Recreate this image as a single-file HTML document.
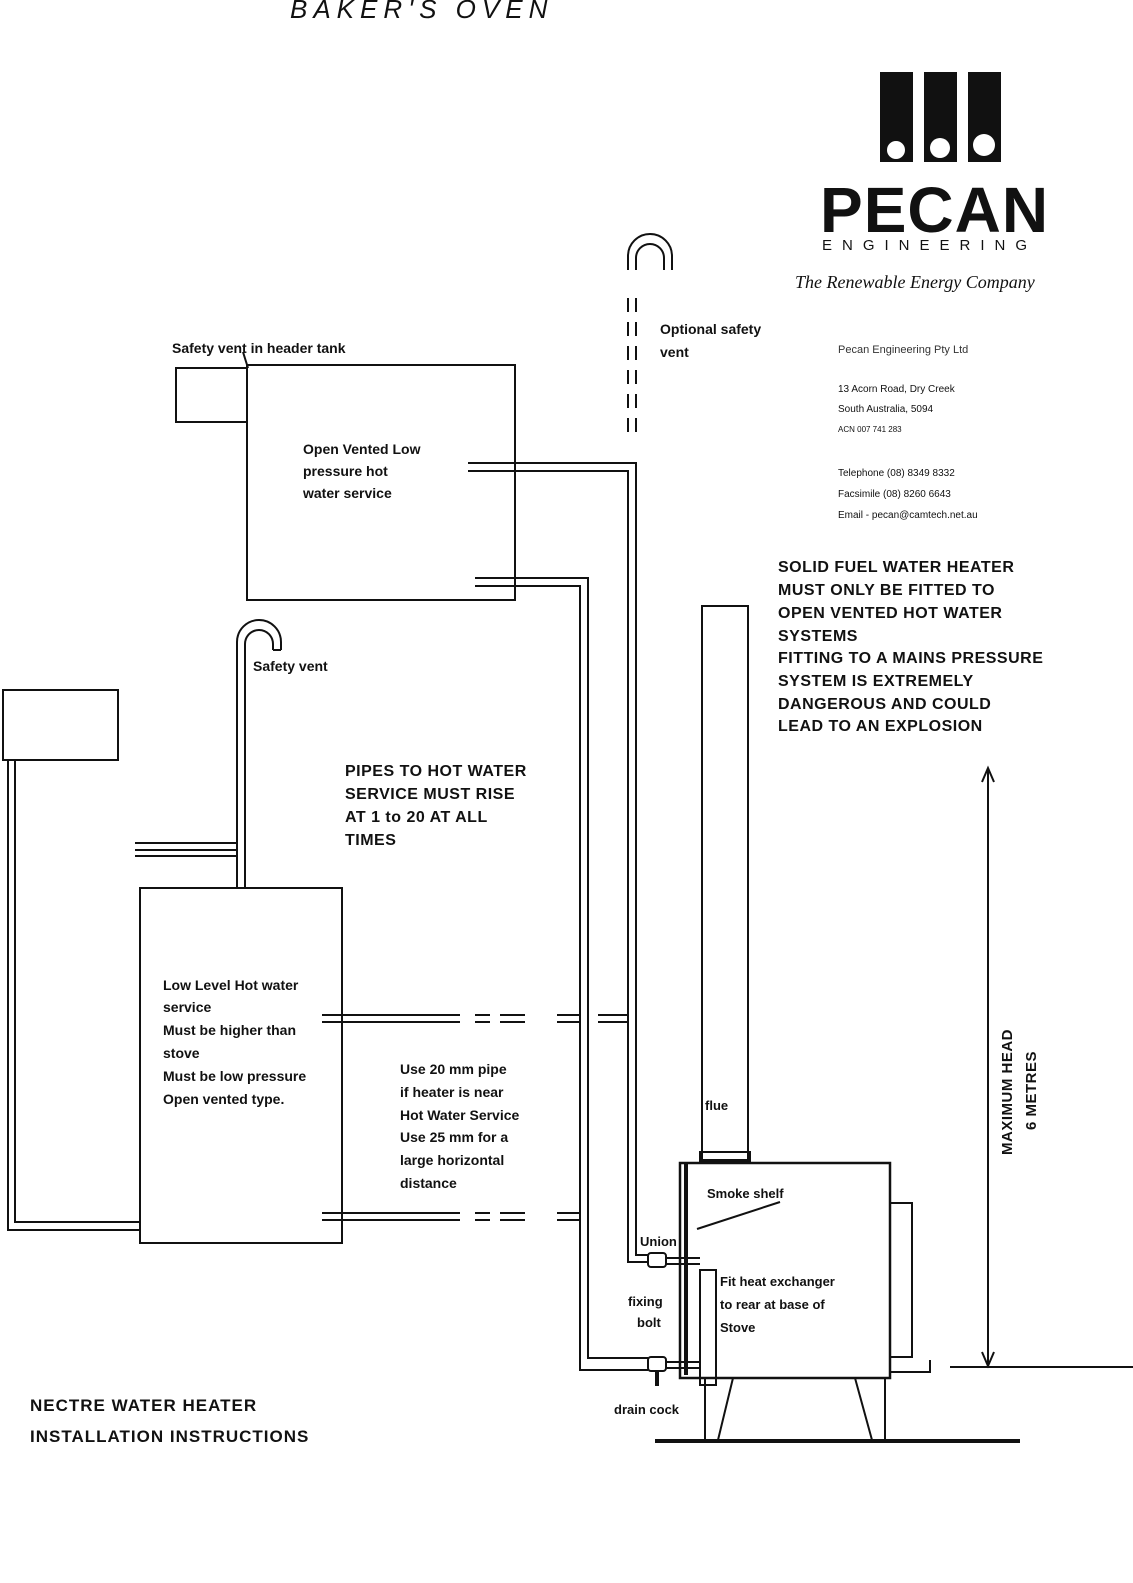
<!DOCTYPE html>
<html><head><meta charset="utf-8"><style>
html,body{margin:0;padding:0;background:#fff;overflow:hidden;width:1133px;height:1583px}
svg{display:block}
text{font-family:"Liberation Sans",sans-serif;fill:#111}
.b{font-weight:bold;font-size:14px}
.w{font-weight:bold;font-size:16px;letter-spacing:0.5px}
.s{font-size:11px;fill:#333}
</style></head><body>
<svg width="1133" height="1583" viewBox="0 0 1133 1583" xmlns="http://www.w3.org/2000/svg" fill="none" stroke="#111" stroke-width="2">
<text x="290" y="18" style="font-family:'Liberation Sans',sans-serif;font-size:26px;font-style:italic;letter-spacing:6px" fill="#222" stroke="none">BAKER'S OVEN</text>
<g fill="#111" stroke="none">
<rect x="880" y="72" width="33" height="90"/><rect x="924" y="72" width="33" height="90"/><rect x="968" y="72" width="33" height="90"/>
<circle cx="896" cy="150" r="9" fill="#fff"/><circle cx="940" cy="148" r="10" fill="#fff"/><circle cx="984" cy="145" r="11" fill="#fff"/>
</g>
<text x="820" y="232" stroke="none" style="font-size:64px;font-weight:bold;letter-spacing:1px">PECAN</text>
<text x="822" y="250" stroke="none" style="font-size:15px;letter-spacing:10px">ENGINEERING</text>
<text x="795" y="288" stroke="none" style="font-family:'Liberation Serif',serif;font-size:18px;font-style:italic">The Renewable Energy Company</text>
<g stroke="none" class="s">
<text x="838" y="353" class="s">Pecan Engineering Pty Ltd</text>
<text x="838" y="392" style="font-size:10px">13 Acorn Road, Dry Creek</text>
<text x="838" y="412" style="font-size:10px">South Australia, 5094</text>
<text x="838" y="432" style="font-size:8px">ACN 007 741 283</text>
<text x="838" y="476" style="font-size:10px">Telephone (08) 8349 8332</text>
<text x="838" y="497" style="font-size:10px">Facsimile (08) 8260 6643</text>
<text x="838" y="518" style="font-size:10px">Email - pecan@camtech.net.au</text>
</g>
<rect x="176" y="368" width="71" height="54"/>
<rect x="247" y="365" width="268" height="235"/>
<line x1="248" y1="368" x2="243" y2="352"/>
<g stroke="none" class="b">
<text x="172" y="353">Safety vent in header tank</text>
<text x="303" y="454">Open Vented Low</text>
<text x="303" y="476">pressure hot</text>
<text x="303" y="498">water service</text>
<text x="660" y="334">Optional safety</text>
<text x="660" y="357">vent</text>
</g>
<path d="M628 270 V256 A22 22 0 0 1 672 256 V270 M636 270 V258 A14 14 0 0 1 664 258 V270"/>
<g stroke-dasharray="14 10"><line x1="628" y1="298" x2="628" y2="440"/><line x1="636" y1="298" x2="636" y2="440"/></g>
<path d="M468 463 H636 V1255 H648 M468 471 H628 V1262 H648"/>
<path d="M475 578 H588 V1358 H648 M475 586 H580 V1370 H648"/>
<rect x="648" y="1253" width="18" height="14" rx="3"/>
<rect x="648" y="1357" width="18" height="14" rx="3"/>
<path d="M666 1258 H700 M666 1264 H700 M666 1362 H700 M666 1368 H700"/>
<line x1="657" y1="1371" x2="657" y2="1386" stroke-width="4"/>
<g stroke="none" class="w">
<text x="778" y="572">SOLID FUEL WATER HEATER</text>
<text x="778" y="595">MUST ONLY BE FITTED TO</text>
<text x="778" y="618">OPEN VENTED HOT WATER</text>
<text x="778" y="641">SYSTEMS</text>
<text x="778" y="663">FITTING TO A MAINS PRESSURE</text>
<text x="778" y="686">SYSTEM IS EXTREMELY</text>
<text x="778" y="709">DANGEROUS AND COULD</text>
<text x="778" y="731">LEAD TO AN EXPLOSION</text>
<text x="345" y="776">PIPES TO HOT WATER</text>
<text x="345" y="799">SERVICE MUST RISE</text>
<text x="345" y="822">AT 1 to 20 AT ALL</text>
<text x="345" y="845">TIMES</text>
</g>
<rect x="3" y="690" width="115" height="70"/>
<path d="M8 760 V1230 H140 M15 760 V1222 H140"/>
<path d="M237 888 V642 A18 18 0 0 1 281 642 V650 M245 888 V644 A10 10 0 0 1 273 644 V650"/>
<path d="M273 650 H281"/>
<path d="M135 843 H237 M135 850 H237 M135 856 H237"/>
<rect x="140" y="888" width="202" height="355"/>
<g stroke="none" class="b">
<text x="253" y="671">Safety vent</text>
<text x="163" y="990">Low Level Hot water</text>
<text x="163" y="1012">service</text>
<text x="163" y="1035">Must be higher than</text>
<text x="163" y="1058">stove</text>
<text x="163" y="1081">Must be low pressure</text>
<text x="163" y="1104">Open vented type.</text>
<text x="400" y="1074">Use 20 mm pipe</text>
<text x="400" y="1097">if heater is near</text>
<text x="400" y="1120">Hot Water Service</text>
<text x="400" y="1142">Use 25 mm for a</text>
<text x="400" y="1165">large horizontal</text>
<text x="400" y="1188">distance</text>
</g>
<path d="M322 1015 H460 M322 1022 H460 M475 1015 H490 M475 1022 H490 M500 1015 H525 M500 1022 H525 M557 1015 H580 M557 1022 H580 M598 1015 H628 M598 1022 H628"/>
<path d="M322 1213 H460 M322 1220 H460 M475 1213 H490 M475 1220 H490 M500 1213 H525 M500 1220 H525 M557 1213 H580 M557 1220 H580"/>
<rect x="702" y="606" width="46" height="554"/>
<rect x="700" y="1152" width="50" height="10"/>
<rect x="680" y="1163" width="210" height="215" stroke-width="2.5"/>
<path d="M890 1203 H912 V1357 H890"/>
<rect x="700" y="1270" width="16" height="115"/>
<line x1="686" y1="1163" x2="686" y2="1375" stroke-width="4"/>
<line x1="697" y1="1229" x2="780" y2="1202"/>
<path d="M733 1378 L718 1440 M855 1378 L872 1440 M885 1378 V1440 M705 1378 V1440"/>
<line x1="655" y1="1441" x2="1020" y2="1441" stroke-width="4"/>
<path d="M890 1372 H930 V1360"/>
<g stroke="none" class="b" style="font-size:13px">
<text x="707" y="1198">Smoke shelf</text>
<text x="640" y="1246">Union</text>
<text x="628" y="1306">fixing</text>
<text x="637" y="1327">bolt</text>
<text x="720" y="1286">Fit heat exchanger</text>
<text x="720" y="1309">to rear at base of</text>
<text x="720" y="1332">Stove</text>
<text x="705" y="1110">flue</text>
<text x="614" y="1414">drain cock</text>
</g>
<line x1="988" y1="770" x2="988" y2="1365"/>
<path d="M982 782 L988 768 L994 782 M982 1352 L988 1366 L994 1352"/>
<line x1="950" y1="1367" x2="1133" y2="1367" stroke-width="2"/>
<text transform="translate(1012,1155) rotate(-90)" stroke="none" class="w" style="font-size:15px">MAXIMUM HEAD</text>
<text transform="translate(1036,1130) rotate(-90)" stroke="none" class="w" style="font-size:15px">6 METRES</text>
<g stroke="none" style="font-weight:bold;font-size:17px;letter-spacing:1px">
<text x="30" y="1411">NECTRE WATER HEATER</text>
<text x="30" y="1442">INSTALLATION INSTRUCTIONS</text>
</g>
</svg>
</body></html>
